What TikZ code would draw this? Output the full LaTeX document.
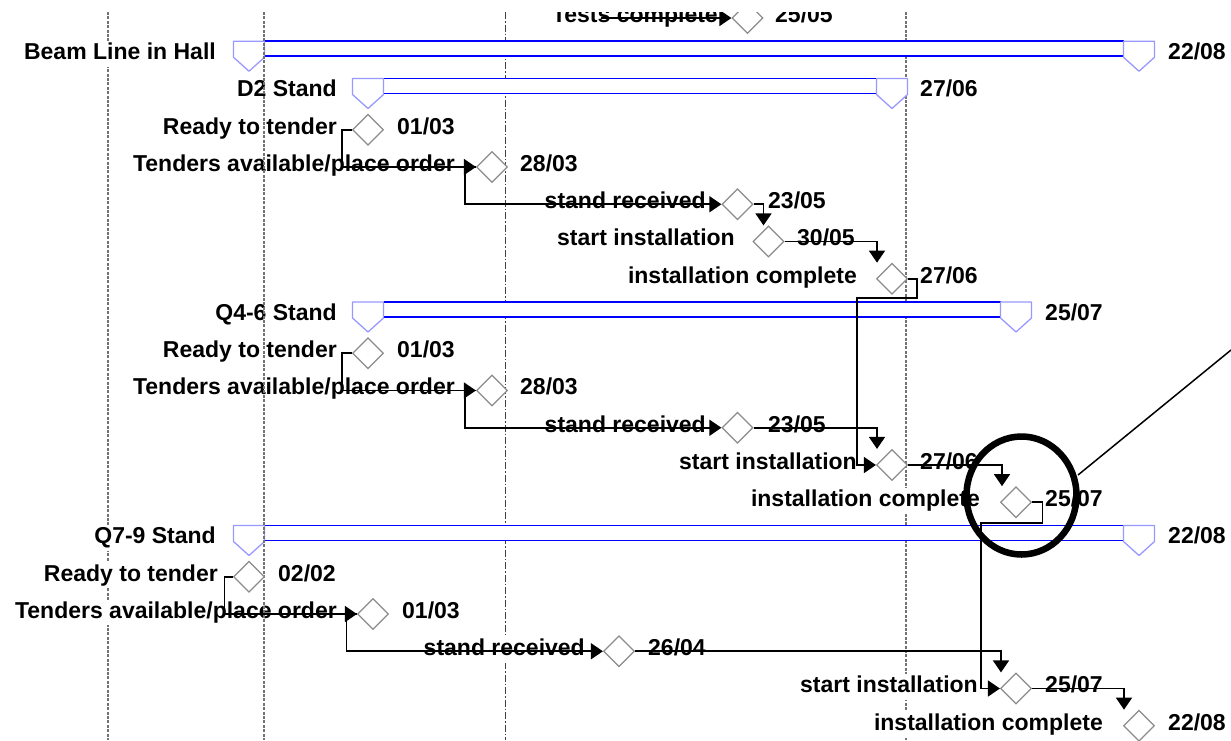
\documentclass[tikz,border=0pt]{standalone}
\usepackage{fontspec}
\setmainfont{Liberation Sans}
\usetikzlibrary{arrows.meta,shapes.geometric}
\newcommand\summarybar[3]{% #1 = y, #2 = start x, #3 = end x
  \fill[white] (#2+15.5,#1-10) rectangle (#3-15.5,#1+5);
  \draw[barline] (#2+15.5,#1-10) -- (#3-15.5,#1-10) (#2+15.5,#1+5) -- (#3-15.5,#1+5);
  \foreach \cx in {#2,#3} {\draw[barend] (\cx-15.5,#1-10) -- (\cx+15.5,#1-10) -- (\cx+15.5,#1+6) -- (\cx,#1+20) -- (\cx-15.5,#1+6) -- cycle;}
}
\begin{document}
\begin{tikzpicture}[x=1pt,y=-1pt,
  txt/.style={font=\bfseries\fontsize{23}{27}\selectfont, text=black},
  lbl/.style={txt, anchor=base east, fill=white, inner xsep=0pt, inner ysep=2pt, text depth=5pt},
  dt/.style={txt, anchor=base west, inner sep=0pt},
  ms/.style={diamond, draw=black!45, fill=white, line width=1.2pt, minimum width=31pt, minimum height=31pt, inner sep=0pt},
  conn/.style={draw=black, line width=1.6pt, -{Triangle[length=12pt,width=16pt]}},
  heavygrid/.style={draw=black!55, line width=2.6pt, dash pattern=on 3pt off 1.4pt},
  thingrid/.style={draw=black!75, line width=1pt, dash pattern=on 7pt off 2pt on 1.5pt off 2pt},
  barline/.style={draw=blue, line width=1.8pt},
  barend/.style={draw=blue!40, fill=white, line width=1.3pt, line join=round},
  marker/.style={draw=black, line width=6.5pt},
  pointer/.style={draw=black, line width=1.5pt},
]
\useasboundingbox[fill=white] (0,0) rectangle (1231,740);
\begin{scope}
\clip (0,12) rectangle (1231,740);
% grid lines below labels
\coordinate (g1t) at (108,12); \coordinate (g1b) at (108,740);
\coordinate (g2t) at (264,12); \coordinate (g2b) at (264,740);
\coordinate (g3t) at (505,12); \coordinate (g3b) at (505,740);
\coordinate (g4t) at (906,12); \coordinate (g4b) at (906,740);
\draw[heavygrid] (g1t) -- (g1b);
\draw[thingrid] (g3t) -- (g3b);
\draw[heavygrid] (g4t) -- (g4b);
% summary bars
\summarybar{51.25}{249}{1139}
\summarybar{88.5}{368}{892}
\summarybar{312}{368}{1016}
\summarybar{535.5}{249}{1139}
% labels
\node[lbl] (l0) at (718,22.3) {Tests complete};
\node[lbl] (l1) at (216,59.55) {Beam Line in Hall};
\node[lbl] (l2) at (337,96.8) {D2 Stand};
\node[lbl] (l3) at (337,134.05) {Ready to tender};
\node[lbl] (l4) at (455,171.3) {Tenders available/place order};
\node[lbl] (l5) at (706,208.55) {stand received};
\node[lbl] (l6) at (735,245.8) {start installation};
\node[lbl] (l7) at (857,283.05) {installation complete};
\node[lbl] (l8) at (337,320.3) {Q4-6 Stand};
\node[lbl] (l9) at (337,357.55) {Ready to tender};
\node[lbl] (l10) at (455,394.8) {Tenders available/place order};
\node[lbl] (l11) at (706,432.05) {stand received};
\node[lbl] (l12) at (857,469.3) {start installation};
\node[lbl] (l13) at (980,506.55) {installation complete};
\node[lbl] (l14) at (216,543.8) {Q7-9 Stand};
\node[lbl] (l15) at (218,581.05) {Ready to tender};
\node[lbl] (l16) at (337,618.3) {Tenders available/place order};
\node[lbl] (l17) at (585,655.55) {stand received};
\node[lbl] (l18) at (978,692.8) {start installation};
\node[lbl] (l19) at (1103,730.05) {installation complete};
% grid line drawn over labels
\draw[heavygrid] (g2t) -- (g2b);
% milestones
\node[ms] (d0) at (747.5,18) {};
\node[ms] (d3) at (368,129.75) {};
\node[ms] (d4) at (492,167) {};
\node[ms] (d5) at (737.5,204.25) {};
\node[ms] (d6) at (768.5,241.5) {};
\node[ms] (d7) at (892,278.75) {};
\node[ms] (d9) at (368,353.25) {};
\node[ms] (d10) at (492,390.5) {};
\node[ms] (d11) at (737.5,427.75) {};
\node[ms] (d12) at (892,465) {};
\node[ms] (d13) at (1016,502.25) {};
\node[ms] (d15) at (249,576.75) {};
\node[ms] (d16) at (373,614) {};
\node[ms] (d17) at (619,651.25) {};
\node[ms] (d18) at (1016,688.5) {};
\node[ms] (d19) at (1139,725.75) {};
% dates
\node[dt] (t0) at (775,22.3) {25/05};
\node[dt] (t1) at (1168,59.55) {22/08};
\node[dt] (t2) at (920,96.8) {27/06};
\node[dt] (t3) at (397,134.05) {01/03};
\node[dt] (t4) at (520,171.3) {28/03};
\node[dt] (t5) at (768,208.55) {23/05};
\node[dt] (t6) at (797,245.8) {30/05};
\node[dt] (t7) at (920,283.05) {27/06};
\node[dt] (t8) at (1045,320.3) {25/07};
\node[dt] (t9) at (397,357.55) {01/03};
\node[dt] (t10) at (520,394.8) {28/03};
\node[dt] (t11) at (768,432.05) {23/05};
\node[dt] (t12) at (920,469.3) {27/06};
\node[dt] (t13) at (1045,506.55) {25/07};
\node[dt] (t14) at (1168,543.8) {22/08};
\node[dt] (t15) at (278,581.05) {02/02};
\node[dt] (t16) at (402,618.3) {01/03};
\node[dt] (t17) at (648,655.55) {26/04};
\node[dt] (t18) at (1045,692.8) {25/07};
\node[dt] (t19) at (1168,730.05) {22/08};
% connectors
\coordinate (c0a) at (601,18);
\draw[conn] (c0a) -- (d0.west);
\draw[conn] (d3.west) -- ++(-10,0) |- (d4.west);
\draw[conn] (d4.west) -- ++(-11,0) |- (d5.west);
\draw[conn] (d5.east) -| ([xshift=-5pt]d6.north);
\draw[conn] (d6.east) -| ([xshift=-15pt]d7.north);
\coordinate (c5a) at (857,298);
\draw[conn] (d7.east) -- ++(9,0) |- (c5a) |- (d12.west);
\draw[conn] (d9.west) -- ++(-10,0) |- (d10.west);
\draw[conn] (d10.west) -- ++(-11,0) |- (d11.west);
\draw[conn] (d11.east) -| ([xshift=-15pt]d12.north);
\draw[conn] (d12.east) -| ([xshift=-14pt]d13.north);
\coordinate (c10a) at (981,523);
\draw[conn] (d13.east) -- ++(10.5,0) |- (c10a) |- (d18.west);
\draw[conn] (d15.west) -- ++(-8.5,0) |- (d16.west);
\draw[conn] (d16.west) -- ++(-10.5,0) |- (d17.west);
\draw[conn] (d17.east) -| ([xshift=-15pt]d18.north);
\draw[conn] (d18.east) -| ([xshift=-15pt]d19.north);
% highlight circle and pointer
\coordinate (circ) at (1021.5,495.5);
\draw[marker] (circ) ellipse [x radius=55pt, y radius=59pt];
\coordinate (pa) at (1078,475);
\coordinate (pb) at (1231,350);
\draw[pointer] (pa) -- (pb);
\end{scope}
\end{tikzpicture}
\end{document}
